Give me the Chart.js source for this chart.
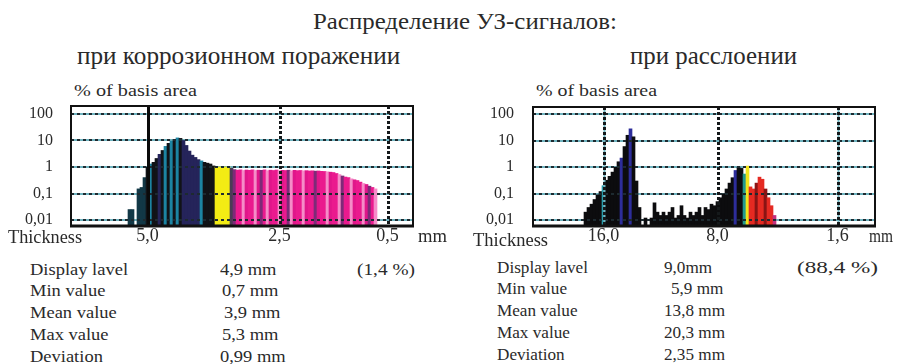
<!DOCTYPE html>
<html>
<head>
<meta charset="utf-8">
<script src="https://cdn.jsdelivr.net/npm/chart.js@4.4.1/dist/chart.umd.min.js"></script>
<style>
  html, body { margin: 0; padding: 0; background: #fff; }
  #page { position: relative; width: 898px; height: 364px; overflow: hidden;
          font-family: "Liberation Serif", "Times New Roman", serif; color: #2a2a2a; }
  .t { position: absolute; white-space: nowrap; line-height: 1; transform-origin: 0 0; }
  canvas { position: absolute; }
</style>
</head>
<body>
<div id="page">
  <canvas id="chartLeft" width="450" height="150" style="left:0;top:100px"></canvas>
  <canvas id="chartRight" width="438" height="150" style="left:460px;top:100px"></canvas>
</div>
<script>
// ---- data: histogram bins (each bin is one thin bar) ----
const BIN_COUNT = 114;

// corrosion damage — first bin with a value, then the bin heights (% of basis area)
const leftStart = 19;
const leftValues = [
  0.025, 0.025, null, 0.15, 0.17, 0.4, 1.0, 1.3, 1.5, 2.1,
  3.0, 4.2, 6.0, 7.8, 9.5, 11, 12.5, 12, 10, 6.5,
  4, 2.8, 2.3, 1.9, 1.7, 1.5, 1.4, 1.3, 1.1, 1.0,
  1.0, 1.0, 1.0, 1.0, 0.9, 0.8, 0.76, 0.78, 0.74, 0.77,
  0.75, 0.78, 0.74, 0.76, 0.75, 0.78, 0.73, 0.76, 0.74, 0.77,
  0.73, 0.75, 0.74, 0.76, 0.72, 0.75, 0.73, 0.74, 0.72, 0.73,
  0.71, 0.72, 0.7, 0.71, 0.69, 0.68, 0.66, 0.64, 0.62, 0.57,
  0.52, 0.46, 0.42, 0.4, 0.36, 0.33, 0.31, 0.27, 0.24, 0.22,
  0.19, 0.17, 0.15
];
const leftTickBins = [25, 69, 105];
const leftTickLabels = ['5,0', '2,5', '0,5'];

// delamination
const rightStart = 17;
const rightValues = [
  0.02, 0.03, 0.04, 0.06, 0.09, 0.12, 0.2, 0.32, 0.45, 0.65,
  1.0, 1.6, 2.2, 6, 16, 28, 14, 0.3, 0.03, null,
  0.012, null, 0.012, 0.045, 0.02, 0.015, 0.02, 0.015, 0.02, 0.03,
  0.012, 0.015, 0.035, 0.015, 0.012, 0.02, 0.015, 0.02, 0.03, 0.015,
  0.03, 0.025, 0.04, 0.035, 0.05, 0.07, 0.1, 0.15, 0.25, 0.4,
  0.75, 1.0, 0.9, 0.55, 1.1, 0.18, 0.15, 0.25, 0.42, 0.35,
  0.15, 0.07, 0.035, 0.015
];
const rightTickBins = [23, 61, 101];
const rightTickLabels = ['16,0', '8,0', '1,6'];

const yTicks = [0.01, 0.1, 1, 10, 100];
const yTickLabels = ['0,01', '0,1', '1', '10', '100'];

const SERIF = '"Liberation Serif", "Times New Roman", serif';

// ---- bar colours ----
function leftColor(i) {
  if (i <= 24) return '#123846';
  if (i <= 47) {
    if ([26, 31, 33, 35, 43].includes(i)) return '#1c84a2';
    if (i === 29 || (i >= 37 && i <= 42)) return '#25245a';
    return '#111317';
  }
  if (i <= 52) return '#f3ec14';
  if (i === 53) return '#4b3b55';
  if (i % 9 === 0) return '#7d2a78';
  return ['#ea1a8e', '#f58cc8', '#e0168a', '#ea1a8e'][i % 4];
}
function rightColor(i) {
  if ([29, 32, 67].includes(i)) return '#2d2d9a';
  if (i === 23) return '#2a9aa8';
  if (i === 70) return '#239a8e';
  if (i === 71) return '#f1e51a';
  if (i === 80) return '#c2307e';
  if (i === 74 || i === 77) return '#8a1414';
  if (i >= 72) return '#e52a22';
  return '#0c0c0e';
}

// ---- grid + frame ----
function hLine(ctx, x1, x2, y) { ctx.beginPath(); ctx.moveTo(x1, y); ctx.lineTo(x2, y); ctx.stroke(); }
function vLine(ctx, x, y1, y2) { ctx.beginPath(); ctx.moveTo(x, y1); ctx.lineTo(x, y2); ctx.stroke(); }

const gridPlugin = {
  id: 'dotGrid',
  beforeDatasetsDraw(chart) {
    const { ctx, chartArea: a, scales: { y } } = chart;
    ctx.save();
    ctx.lineWidth = 2;
    ctx.strokeStyle = '#6fb3bf';
    y.ticks.forEach(t => hLine(ctx, a.left, a.right, Math.round(y.getPixelForValue(t.value))));
    ctx.restore();
  },
  afterDatasetsDraw(chart, args, opts) {
    const { ctx, chartArea: a, scales: { x, y } } = chart;
    ctx.save();
    ctx.lineWidth = 2;
    ctx.strokeStyle = '#1d2a30';
    ctx.setLineDash([3, 3]);
    y.ticks.forEach(t => hLine(ctx, a.left, a.right, Math.round(y.getPixelForValue(t.value))));
    x.ticks.forEach((t, i) => {
      const px = Math.round(x.getPixelForValue(t.value)) + 0.5;
      const style = opts.vStyles[i];
      if (style === 'solid') {
        ctx.setLineDash([]); ctx.lineWidth = 3; ctx.strokeStyle = '#0a0a0a';
        vLine(ctx, px, a.top, a.bottom);
      } else {
        if (style === 'teal') {
          ctx.setLineDash([]); ctx.lineWidth = 2; ctx.strokeStyle = '#6fb3bf';
          vLine(ctx, px, a.top, a.bottom);
        }
        ctx.setLineDash([3, 2]); ctx.lineWidth = 3; ctx.strokeStyle = '#15191b';
        vLine(ctx, px, a.top, a.bottom);
      }
    });
    ctx.setLineDash([]);
    ctx.strokeStyle = '#111';
    ctx.lineWidth = 2;
    ctx.strokeRect(a.left, a.top, a.right - a.left, a.bottom - a.top);
    ctx.lineWidth = 3;
    hLine(ctx, a.left - 1, a.right + 1, a.bottom);
    ctx.restore();
  }
};

function makeChart(id, start, values, colorFn, tickBins, tickLabels, opt) {
  const labels = Array.from({ length: BIN_COUNT }, (_, i) => String(i));
  const data = labels.map((_, i) => {
    const v = values[i - start];
    return v === undefined ? null : v;
  });
  return new Chart(document.getElementById(id), {
    type: 'bar',
    data: {
      labels,
      datasets: [{
        data,
        backgroundColor: c => colorFn(c.dataIndex),
        borderWidth: 0,
        barPercentage: 1,
        categoryPercentage: 1
      }]
    },
    options: {
      responsive: false,
      animation: false,
      events: [],
      layout: { padding: { top: opt.top, right: opt.right, left: 0, bottom: 0 } },
      plugins: {
        legend: { display: false },
        tooltip: { enabled: false },
        dotGrid: { vStyles: opt.vStyles }
      },
      scales: {
        x: {
          type: 'category',
          grid: { display: false },
          border: { display: false },
          afterBuildTicks: s => { s.ticks = tickBins.map(v => ({ value: v })); },
          afterFit: s => { s.height = 24; s.paddingLeft = 0; s.paddingRight = 0; },
          ticks: {
            autoSkip: false, maxRotation: 0, padding: -7,
            color: '#2a2a2a',
            font: { family: SERIF, size: 18, lineHeight: 1 },
            callback: (v, i) => tickLabels[i]
          }
        },
        y: {
          type: 'logarithmic',
          min: 0.006,
          max: opt.max,
          grid: { display: false },
          border: { display: false },
          afterBuildTicks: s => { s.ticks = yTicks.map(v => ({ value: v })); },
          afterFit: s => { s.width = opt.yWidth; s.paddingTop = 0; s.paddingBottom = 0; },
          ticks: {
            padding: opt.yPad,
            color: '#2a2a2a',
            font: { family: SERIF, size: 16, lineHeight: 1 },
            callback: (v, i) => yTickLabels[i]
          }
        }
      }
    },
    plugins: [gridPlugin]
  });
}

makeChart('chartLeft', leftStart, leftValues, leftColor, leftTickBins, leftTickLabels,
  { top: 6, right: 37, yWidth: 71, yPad: 10, max: 199, vStyles: ['solid', 'dots', 'dots'] });
makeChart('chartRight', rightStart, rightValues, rightColor, rightTickBins, rightTickLabels,
  { top: 7, right: 23, yWidth: 73, yPad: 11, max: 187, vStyles: ['teal', 'dots', 'teal'] });

// ---- text: [text, left, baseline, font size, target width] ----
const texts = [
  ['Распределение УЗ-сигналов:', 313, 29, 24, 304],
  ['при коррозионном поражении', 77, 65, 26, 323],
  ['при расслоении', 630, 65, 26, 167],
  ['% of basis area', 74, 96, 16, 123],
  ['% of basis area', 536, 96, 16, 121],
  ['Thickness', 8, 243, 18, 74],
  ['Thickness', 473, 246, 18, 75],
  ['mm', 418, 242, 18, 29],
  ['mm', 869, 242, 18, 24],
];
const statNames = ['Display lavel', 'Min value', 'Mean value', 'Max value', 'Deviation'];
const leftStats = ['4,9 mm', '0,7 mm', '3,9 mm', '5,3 mm', '0,99 mm'];
const rightStats = ['9,0mm', '5,9 mm', '13,8 mm', '20,3 mm', '2,35 mm'];
const leftStatX = [220, 222, 224, 222, 220];
const rightStatX = [664, 671, 664, 664, 664];

const page = document.getElementById('page');
function addText(str, x, base, size, width, scale) {
  const el = document.createElement('div');
  el.className = 't';
  el.textContent = str;
  el.style.fontSize = size + 'px';
  el.style.left = x + 'px';
  el.style.top = (base - 0.8375 * size) + 'px';
  page.appendChild(el);
  const k = width ? width / el.getBoundingClientRect().width : scale;
  el.style.transform = 'scaleX(' + k.toFixed(3) + ')';
  return k;
}
texts.forEach(t => addText(t[0], t[1], t[2], t[3], t[4]));
const kl = addText(statNames[0], 30, 275, 17, 98);
const kr = addText(statNames[0], 497, 273, 17, 91);
statNames.forEach((s, i) => {
  if (i > 0) {
    addText(s, 30, 275 + i * 21.7, 17, 0, kl);
    addText(s, 497, 273 + i * 21.7, 17, 0, kr);
  }
  addText(leftStats[i], leftStatX[i], 275 + i * 21.7, 17, 0, kl);
  addText(rightStats[i], rightStatX[i], 273 + i * 21.7, 17, 0, kr);
});
addText('(1,4 %)', 357, 275, 17, 58);
addText('(88,4 %)', 797, 273, 17, 81);
</script>
</body>
</html>
